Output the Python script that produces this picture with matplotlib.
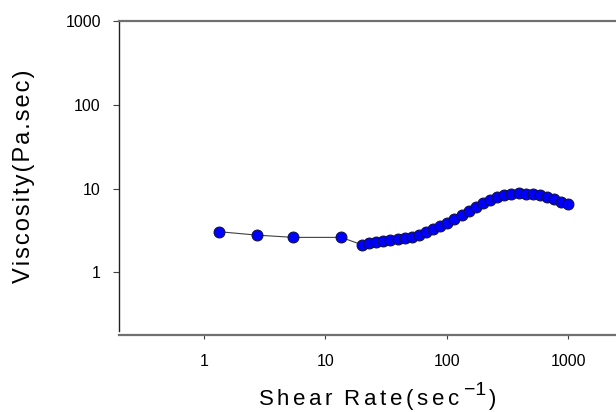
import matplotlib
matplotlib.use('Agg')
import matplotlib.pyplot as plt

plt.rcParams['font.family'] = ['Liberation Sans', 'DejaVu Sans']
plt.rcParams['mathtext.fontset'] = 'custom'
plt.rcParams['mathtext.rm'] = 'Liberation Sans'

# ===== Data =====
shear_rate = [1.34, 2.72, 5.46, 13.5,
              20.0, 22.9, 26.2, 30.0, 34.3, 39.2, 44.9, 51.4, 58.8, 67.3,
              77.0, 88.1, 101, 115, 132, 151, 173, 198, 226, 259,
              297, 339, 388, 445, 509, 582, 666, 762, 873, 1000]
viscosity = [3.05, 2.78, 2.61, 2.61,
             2.13, 2.21, 2.28, 2.36, 2.42, 2.47, 2.54, 2.66, 2.81, 2.99,
             3.28, 3.53, 3.83, 4.27, 4.77, 5.37, 6.05, 6.75, 7.39, 8.03,
             8.41, 8.72, 8.79, 8.72, 8.56, 8.26, 7.88, 7.46, 6.94, 6.45]

x_ticks = [1, 10, 100, 1000]
y_ticks = [1, 10, 100, 1000]

W, H = 616, 412

# ===== Plot =====
fig = plt.figure(figsize=(W / 100, H / 100), dpi=100)
ax = fig.add_axes([0.193, 0.197, 0.807, 0.752])

ax.plot(shear_rate, viscosity, '-', color='#404040', linewidth=0.8,
        marker='o', markersize=7.8, markerfacecolor='#0000ff',
        markeredgecolor='#10104a', markeredgewidth=0.8)

ax.set_xscale('log')
ax.set_yscale('log')
ax.set_xlim(0.2, 2460)
ax.set_ylim(0.2, 1000)

ax.set_xticks(x_ticks)
ax.set_xticklabels([str(t) for t in x_ticks])
ax.set_yticks(y_ticks)
ax.set_yticklabels([str(t) for t in y_ticks])
ax.minorticks_off()

ax.spines['right'].set_visible(False)
ax.spines['left'].set_color('#202020')
ax.spines['left'].set_linewidth(1.0)
ax.spines['bottom'].set_color('#707070')
ax.spines['bottom'].set_linewidth(1.6)
ax.spines['bottom'].set_position(('outward', 3))
ax.spines['top'].set_color('#707070')
ax.spines['top'].set_linewidth(1.6)

ax.tick_params(axis='x', direction='out', length=3, width=0.8, color='#404040',
               labelsize=11.5, pad=11)
ax.tick_params(axis='y', direction='out', length=4, width=0.8, color='#404040',
               labelsize=11.5, pad=9)

# y title, letter-spaced
hs = '\u200a'
ax.set_ylabel(hs.join('Viscosity(Pa.sec)'), fontsize=17)
ax.yaxis.set_label_coords(-0.169, 0.5)

# x title built from pieces so the superscript can be full-ish size
renderer = fig.canvas.get_renderer()
t1 = fig.text(258 / W, (H - 405) / H,
              r'$\mathrm{S\,h\,e\,a\,r\;\;R\,a\,t\,e\,(\,s\,e\,c}$',
              fontsize=16, ha='left', va='baseline')
x_end = t1.get_window_extent(renderer).x1
t2 = fig.text((x_end + 4) / W, (H - 395) / H, '\u22121',
              fontsize=14, ha='left', va='baseline')
x_end = t2.get_window_extent(renderer).x1
fig.text((x_end + 3) / W, (H - 405) / H, ')',
         fontsize=16, ha='left', va='baseline')

plt.savefig('out.png', dpi=100)
